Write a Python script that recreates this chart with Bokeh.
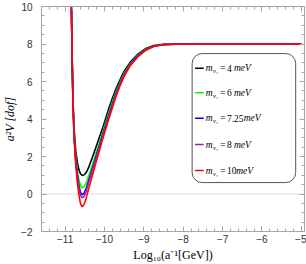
from bokeh.plotting import figure
from bokeh.models import (ColumnDataSource, LinearAxis, Span, BoxAnnotation,
                          SingleIntervalTicker, Range1d)
from bokeh.core.properties import value
from bokeh.embed import file_html
from bokeh.resources import INLINE

# ---------------- data ----------------
log_inv_a = [-10.86, -10.84, -10.82, -10.80, -10.77, -10.73, -10.69, -10.65, -10.61, -10.57,
             -10.53, -10.49, -10.45, -10.40, -10.30, -10.20, -10.05, -9.90, -9.80, -9.70,
             -9.60, -9.50, -9.35, -9.15, -8.95, -8.75, -8.50, -8.00, -7.00, -5.00]

V_m4 = [11.5, 10.0, 7.2, 5.0, 3.4, 2.3, 1.7, 1.3, 1.08, 1.0,
        1.01, 1.08, 1.2, 1.43, 2.0, 2.6, 3.5, 4.5, 5.1, 5.65,
        6.12, 6.55, 7.02, 7.46, 7.76, 7.92, 7.98, 8.0, 8.0, 8.0]
V_m6 = [11.5, 9.96, 7.12, 4.88, 3.2, 2.0, 1.26, 0.76, 0.45, 0.33,
        0.37, 0.49, 0.68, 0.98, 1.62, 2.28, 3.26, 4.28, 4.9, 5.49,
        5.99, 6.44, 6.94, 7.41, 7.72, 7.9, 7.97, 8.0, 8.0, 8.0]
V_m725 = [11.5, 9.94, 7.08, 4.81, 3.09, 1.83, 1.02, 0.46, 0.1, -0.03,
          0.01, 0.16, 0.39, 0.73, 1.41, 2.1, 3.13, 4.16, 4.79, 5.4,
          5.92, 6.38, 6.9, 7.38, 7.7, 7.89, 7.97, 8.0, 8.0, 8.0]
V_m8 = [11.5, 9.93, 7.06, 4.78, 3.04, 1.76, 0.91, 0.33, -0.06, -0.2,
        -0.15, 0.01, 0.26, 0.62, 1.32, 2.02, 3.07, 4.1, 4.74, 5.36,
        5.89, 6.36, 6.88, 7.37, 7.7, 7.88, 7.97, 8.0, 8.0, 8.0]
V_m10 = [11.5, 9.9, 7.0, 4.7, 2.9, 1.55, 0.6, -0.05, -0.5, -0.67,
         -0.6, -0.4, -0.1, 0.3, 1.05, 1.8, 2.9, 3.95, 4.6, 5.25,
         5.8, 6.28, 6.83, 7.33, 7.67, 7.87, 7.96, 8.0, 8.0, 8.0]

masses = ["4", "6", "7.25", "8", "10"]
series = [V_m4, V_m6, V_m725, V_m8, V_m10]
colors = ["#000000", "#00ff00", "#0000ff", "#a020a0", "#ff0000"]

x_ticks = [-11, -10, -9, -8, -7, -6, -5]
x_tick_labels = ["\u221211", "\u221210", "\u22129", "\u22128", "\u22127", "\u22126", "\u22125"]
y_ticks = [-2, 0, 2, 4, 6, 8, 10]
y_tick_labels = ["\u22122", "0", "2", "4", "6", "8", "10"]

x_title = "Log\u2081\u2080(a\u207b\u00b9[GeV])"
y_title = "a\u00b2V [dof]"

X0, X1, Y0, Y1 = -11.6, -4.92, -2, 10

# ---------------- figure ----------------
FRAME = "#a6a6a6"
p = figure(width=306, height=264, output_backend="svg", toolbar_location=None,
           x_range=Range1d(X0, X1), y_range=Range1d(Y0, Y1),
           min_border_left=35, min_border_right=2, min_border_top=6, min_border_bottom=33)
p.xgrid.visible = False
p.ygrid.visible = False
p.outline_line_color = FRAME
p.outline_line_width = 1

tick_font = "Liberation Sans"
serif = "Liberation Serif"

def style_axis(ax, interval, nminor):
    ax.ticker = SingleIntervalTicker(interval=interval, num_minor_ticks=nminor)
    ax.axis_line_color = FRAME
    ax.major_tick_line_color = FRAME
    ax.minor_tick_line_color = FRAME
    ax.major_tick_in = 5
    ax.major_tick_out = 0
    ax.minor_tick_in = 3
    ax.minor_tick_out = 0
    ax.major_label_text_font = tick_font
    ax.major_label_text_font_size = "10px"
    ax.major_label_text_color = "#333333"

xa = p.xaxis[0]
ya = p.yaxis[0]
style_axis(xa, 1, 5)
style_axis(ya, 2, 4)
xa.major_label_overrides = {t: l for t, l in zip(x_ticks, x_tick_labels)}
ya.major_label_overrides = {t: l for t, l in zip(y_ticks, y_tick_labels)}
xa.major_label_standoff = 3
ya.major_label_standoff = 9

xa.axis_label = x_title
xa.axis_label_text_font = serif
xa.axis_label_text_font_style = "normal"
xa.axis_label_text_font_size = "12px"
xa.axis_label_text_color = "black"
xa.axis_label_standoff = 2
ya.axis_label = y_title
ya.axis_label_text_font = serif
ya.axis_label_text_font_style = "italic"
ya.axis_label_text_font_size = "12px"
ya.axis_label_text_color = "black"
ya.axis_label_standoff = 1

top = LinearAxis()
style_axis(top, 1, 5)
top.major_label_overrides = {t: "" for t in x_ticks}
top.major_label_standoff = 0
right = LinearAxis()
style_axis(right, 2, 4)
right.major_label_overrides = {t: "" for t in y_ticks}
right.major_label_standoff = 0
p.add_layout(top, "above")
p.add_layout(right, "right")

p.add_layout(Span(location=0, dimension="width", line_color="#dddddd", line_width=1, level="underlay"))

for vals, col in zip(series, colors):
    src = ColumnDataSource(dict(x=log_inv_a, y=vals))
    p.line("x", "y", source=src, line_color=col, line_width=1.6)

# ---------------- legend (hand-built, rounded box) ----------------
box = BoxAnnotation(left=-7.774, right=-5.144, bottom=0.61, top=7.49,
                    fill_color="white", fill_alpha=1.0, line_color="#555555",
                    line_alpha=1.0, line_width=1, level="underlay")
try:
    box.border_radius = 10
except Exception:
    pass
p.add_layout(box)

row_y = [6.71, 5.40, 4.04, 2.64, 1.25]
mev_off = [28.3, 28.3, 38, 28.3, 30.5]
leg = ColumnDataSource(dict(
    x0=[-7.70] * 5, x1=[-7.48] * 5, tx=[-7.43] * 5, y=row_y,
    col=colors, num=masses, moff=mev_off,
    m=["m"] * 5, sub=["\u03bd\u2081"] * 5, eq=["="] * 5, unit=["meV"] * 5))
p.segment("x0", "y", "x1", "y", source=leg, line_color="col", line_width=1.6)
common = dict(source=leg, text_baseline="middle", text_align="left", text_color="black")
p.text("tx", "y", text="m", text_font=value(serif), text_font_style="italic",
       text_font_size="9.5px", **common)
p.text("tx", "y", text="sub", text_font=value(serif), text_font_style="italic",
       text_font_size="6.5px", x_offset=7.3, y_offset=2.5, **common)
p.text("tx", "y", text="eq", text_font=value(serif),
       text_font_size="9.5px", x_offset=14.6, **common)
p.text("tx", "y", text="num", text_font=value(serif),
       text_font_size="9.5px", x_offset=21.3, **common)
p.text("tx", "y", text="unit", text_font=value(serif), text_font_style="italic",
       text_font_size="9.5px", x_offset="moff", **common)

open("out.html", "w").write(file_html(p, INLINE))
